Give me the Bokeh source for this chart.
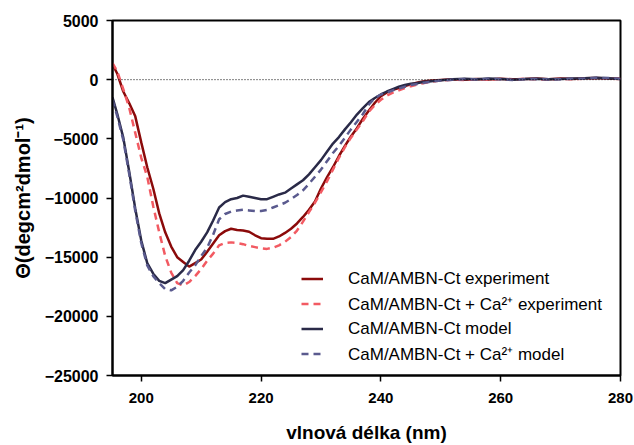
from bokeh.plotting import figure
from bokeh.models import Range1d, Legend, LegendItem, Span, FixedTicker
from bokeh.embed import file_html
from bokeh.resources import INLINE

wavelength = [195.2, 196, 197, 198, 199, 200, 201, 202, 203, 204, 205, 206, 207, 208, 209,
              210, 211, 212, 213, 214, 215, 216, 217, 218, 219, 220, 221, 222, 223, 224,
              225, 226, 227, 228, 229, 230, 231, 232, 233, 234, 235, 236, 237, 238, 239,
              240, 241, 242, 243, 244, 245, 246, 247, 248,
              250, 252, 254, 256, 258, 260, 262, 264, 266, 268, 270, 272, 274, 276, 278, 280]

exp_noca = [1300, 500, -1000, -2000, -3100, -5300, -7400, -9200, -11300, -12900, -14100, -15000, -15400, -15800, -15500,
            -15200, -14550, -13850, -13150, -12800, -12600, -12700, -12750, -12850, -13150, -13400, -13450, -13450, -13250, -12950,
            -12600, -12150, -11600, -11000, -10300, -9200, -8250, -7400, -6450, -5600, -4800, -4100, -3300, -2600, -1950,
            -1400, -1070, -850, -700, -550, -400, -250, -150, -100,
            -20, 40, 0, 60, 20, 80, 30, 60, 100, 40, 90, 60, 120, 150, 100, 80]

exp_ca = [1400, 700, -800, -2400, -4500, -6600, -8200, -10700, -12900, -14900, -16300, -17200, -17400, -17100, -16600,
          -16000, -15300, -14700, -14000, -13800, -13750, -13800, -13900, -14050, -14150, -14250, -14300, -14200, -14000, -13700,
          -13300, -12750, -12000, -11200, -10400, -9500, -8600, -7600, -6600, -5700, -4900, -4200, -3500, -2700, -2150,
          -1700, -1350, -1100, -900, -700, -550, -420, -300, -200,
          -60, 0, -30, 40, 0, 50, 20, 80, 40, 0, 70, 40, 90, 130, 80, 60]

model_noca = [-1500, -2900, -4900, -7800, -10900, -13600, -15500, -16400, -17000, -17200, -16900, -16600, -16100, -15300, -14400,
              -13700, -12900, -11900, -10800, -10350, -10100, -10000, -9800, -9900, -10000, -10100, -10100, -9900, -9700, -9550,
              -9200, -8850, -8500, -8000, -7400, -6800, -6100, -5400, -4850, -4200, -3600, -2950, -2400, -1900, -1550,
              -1250, -1000, -800, -600, -450, -350, -300, -200, -150,
              -40, 30, 80, 40, 90, 50, 0, 60, 80, 30, 60, 90, 110, 170, 120, 60]

model_ca = [-1700, -3100, -5100, -8000, -11100, -13800, -15700, -16600, -17200, -17700, -17800, -17500, -17000, -16300, -15700,
            -14900, -14200, -13100, -11800, -11350, -11150, -11050, -11000, -11050, -11100, -11100, -11000, -10800, -10600, -10400,
            -10100, -9750, -9350, -8800, -8200, -7600, -6900, -6200, -5600, -4900, -4200, -3550, -2900, -2100, -1550,
            -1250, -1100, -900, -750, -600, -450, -370, -280, -200,
            -80, -10, 60, 20, 70, 30, -20, 40, 60, 10, 40, 70, 100, 160, 140, 50]

series_labels = ["CaM/AMBN-Ct experiment",
                 "CaM/AMBN-Ct + Ca²⁺ experiment",
                 "CaM/AMBN-Ct model",
                 "CaM/AMBN-Ct + Ca²⁺ model"]
x_ticks = [200, 220, 240, 260, 280]
y_ticks = [5000, 0, -5000, -10000, -15000, -20000, -25000]
x_title = "vlnová délka (nm)"
y_title = "Θ(degcm²dmol⁻¹)"

FONT = "Liberation Sans"

p = figure(width=634, height=445, output_backend="svg", toolbar_location=None,
           x_range=Range1d(195.2, 280), y_range=Range1d(-25000, 5000),
           min_border_left=112, min_border_right=14, min_border_top=20, min_border_bottom=70)
p.background_fill_color = "white"
p.border_fill_color = "white"
p.grid.visible = False
p.outline_line_color = "black"
p.outline_line_width = 2
p.outline_line_alpha = 1

for ax in (p.xaxis[0], p.yaxis[0]):
    ax.axis_line_width = 2
    ax.axis_line_color = "black"
    ax.major_tick_line_width = 1.5
    ax.major_tick_line_color = "black"
    ax.major_tick_out = 6
    ax.major_tick_in = 0
    ax.minor_tick_line_color = None
    ax.major_label_text_font = FONT
    ax.major_label_text_font_style = "bold"
    ax.major_label_text_color = "black"
    ax.axis_label_text_font = FONT
    ax.axis_label_text_font_style = "bold"
    ax.axis_label_text_color = "black"

p.xaxis.ticker = FixedTicker(ticks=x_ticks)
p.yaxis.ticker = FixedTicker(ticks=y_ticks)
p.xaxis.major_label_text_font_size = "15px"
p.yaxis.major_label_text_font_size = "16px"
p.xaxis.major_label_standoff = 11
p.yaxis.major_label_standoff = 8
p.xaxis.axis_label = x_title
p.yaxis.axis_label = y_title
p.xaxis.axis_label_text_font_size = "19px"
p.yaxis.axis_label_text_font_size = "20px"
p.xaxis.axis_label_standoff = 16
p.yaxis.axis_label_standoff = 8

zero = Span(location=0, dimension="width", line_color="black", line_width=1, line_dash="1 2")
p.add_layout(zero)

r1 = p.line(wavelength, exp_noca, line_color="#8B0A0A", line_width=2.5)
r2 = p.line(wavelength, exp_ca, line_color="#F25A62", line_width=2.5, line_dash="7 5")
r3 = p.line(wavelength, model_noca, line_color="#2A2A48", line_width=2.5)
r4 = p.line(wavelength, model_ca, line_color="#5A5A8E", line_width=2.5, line_dash="7 5")

legend = Legend(items=[LegendItem(label=series_labels[0], renderers=[r1]),
                       LegendItem(label=series_labels[1], renderers=[r2]),
                       LegendItem(label=series_labels[2], renderers=[r3]),
                       LegendItem(label=series_labels[3], renderers=[r4])],
                location=(189, 9), padding=0, margin=0, spacing=0,
                glyph_width=22, glyph_height=25, label_height=25, label_standoff=25,
                label_text_font=FONT, label_text_font_size="17px", label_text_color="black",
                border_line_color=None, background_fill_alpha=0)
p.add_layout(legend)

open("out.html", "w").write(file_html(p, INLINE))
